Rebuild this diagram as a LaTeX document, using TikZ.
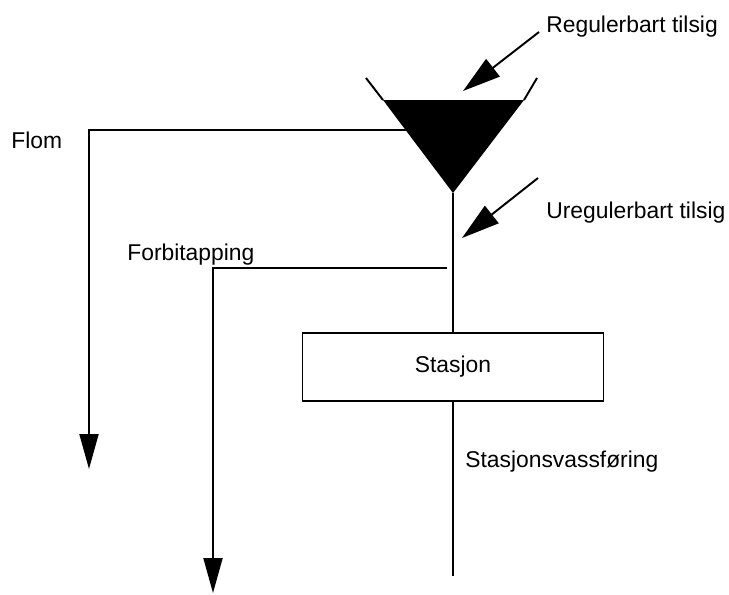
\documentclass[tikz,border=0pt]{standalone}
\usepackage{fontspec}
\setmainfont{Liberation Sans}
\usetikzlibrary{arrows.meta}

\begin{document}
\begin{tikzpicture}[
    line/.style = {line width = 1.1pt},
    flow/.style = {line width = 1.1pt, -{Triangle[length = 7mm, width = 3.8mm]}},
    inflow/.style = {line width = 1.1pt, -{Triangle[length = 7.6mm, width = 4.4mm]}},
    lbl/.style = {anchor = base west, inner sep = 0pt, font = \fontsize{13}{15}\selectfont}
  ]
      \useasboundingbox (0, 0) rectangle (14.58, -11.88);
      % magasin
      \coordinate (Rim Left) at (7.32, -1.56);
      \coordinate (Top Left) at (7.66, -2.00);
      \coordinate (Top Right) at (10.48, -2.00);
      \coordinate (Rim Right) at (10.74, -1.56);
      \coordinate (Apex) at (9.06, -3.86);
      \fill (Top Left) -- (Top Right) -- (Apex) -- cycle;
      \draw[line] (Rim Left) -- (Top Left);
      \draw[line] (Top Right) -- (Rim Right);
      % tilsig
      \node[lbl] (Regulerbart) at (10.92, -0.64) {Regulerbart tilsig};
      \coordinate (Reg From) at (10.78, -0.64);
      \coordinate (Reg To) at (9.26, -1.82);
      \draw[inflow] (Reg From) -- (Reg To);
      \node[lbl] (Uregulerbart) at (10.92, -4.36) {Uregulerbart tilsig};
      \coordinate (Ureg From) at (10.76, -3.56);
      \coordinate (Ureg To) at (9.24, -4.76);
      \draw[inflow] (Ureg From) -- (Ureg To);
      % flom
      \node[lbl] (Flom) at (0.22, -2.96) {Flom};
      \coordinate (Flom Start) at (8.11, -2.60);
      \coordinate (Flom End) at (1.78, -9.38);
      \draw[flow] (Flom Start) -| (Flom End);
      % forbitapping
      \node[lbl] (Forbitapping) at (2.54, -5.20) {Forbitapping};
      \coordinate (Forbi Start) at (8.94, -5.36);
      \coordinate (Forbi End) at (4.26, -11.86);
      \draw[flow] (Forbi Start) -| (Forbi End);
      % stasjon
      \node[draw, line, minimum width = 6.02cm, minimum height = 1.36cm,
            font = \fontsize{13}{15}\selectfont] (Stasjon) at (9.06, -7.34) {Stasjon};
      \coordinate (Bottom) at (9.06, -11.52);
      \draw[line] (Apex) -- (Stasjon.north);
      \draw[line] (Stasjon.south) -- (Bottom);
      \node[lbl] (Vassforing) at (9.30, -9.34) {Stasjonsvassføring};
    \end{tikzpicture}
\end{document}
